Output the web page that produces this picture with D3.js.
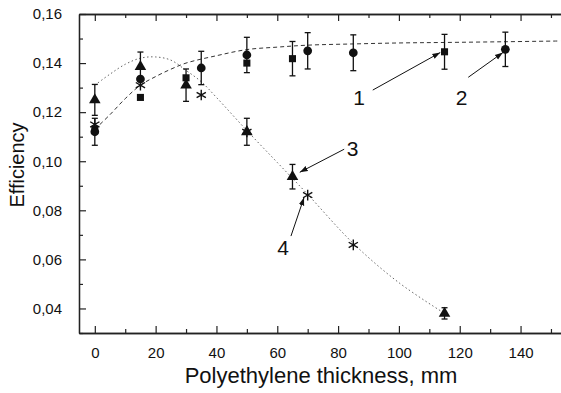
<!DOCTYPE html>
<html>
<head>
<meta charset="utf-8">
<script src="https://cdn.jsdelivr.net/npm/d3@7"></script>
<style>
  body { margin: 0; background: #fff; }
  text { font-family: "Liberation Sans", Arial, sans-serif; fill: #111; }
</style>
</head>
<body>
<svg width="561" height="393"></svg>
<script>
// series 1: squares, series 2: circles, series 3: triangles, series 4: asterisks
var xSq = [0, 15, 30, 50, 65, 115];
var ySq = [0.113, 0.126, 0.134, 0.140, 0.1418, 0.1446];
var eSq = [0, 0, 0, 0, 0.007, 0.0071];

var xCi = [0, 15, 35, 50, 70, 85, 135];
var yCi = [0.112, 0.1335, 0.138, 0.1433, 0.145, 0.1442, 0.1456];
var eCi = [0.0055, 0, 0.0068, 0.0072, 0.0074, 0.0073, 0.007];

var xTr = [0, 15, 30, 50, 65, 115];
var yTr = [0.125, 0.1385, 0.131, 0.112, 0.0937, 0.038];
var eTr = [0.0063, 0.006, 0.0066, 0.0055, 0.005, 0.0023];

var xSt = [0, 15, 35, 50, 70, 85];
var ySt = [0.115, 0.131, 0.127, 0.112, 0.0862, 0.0659];

// fitted curves
var xDash = [0, 5, 10, 15, 20, 25, 30, 40, 50, 60, 70, 85, 100, 115, 135, 153];
var yDash = [0.113, 0.119, 0.1255, 0.131, 0.1345, 0.1375, 0.140, 0.143, 0.1455, 0.1465, 0.1473, 0.1478, 0.1482, 0.1484, 0.1487, 0.149];
var xDot = [0, 5, 10, 15, 20, 25, 30, 35, 40, 50, 60, 70, 85, 100, 115];
var yDot = [0.131, 0.1355, 0.1395, 0.142, 0.1425, 0.1412, 0.137, 0.1324, 0.126, 0.1125, 0.0995, 0.0865, 0.0665, 0.0505, 0.038];

var xTicks = [0, 20, 40, 60, 80, 100, 120, 140];
var xMinor = [10, 30, 50, 70, 90, 110, 130, 150];
var yTicks = [0.04, 0.06, 0.08, 0.10, 0.12, 0.14, 0.16];
var yMinor = [0.03, 0.05, 0.07, 0.09, 0.11, 0.13, 0.15];

// labels: text, label x/y, arrow tail, arrow tip (data units)
var notes = [
  ["1", 86.9, 0.1262, 91.4, 0.129, 113.6, 0.1443],
  ["2", 120.6, 0.1262, 122.8, 0.1342, 134.2, 0.1443],
  ["3", 84.8, 0.1054, 82, 0.1049, 67.4, 0.0955],
  ["4", 61.9, 0.065, 64.5, 0.0695, 68.8, 0.0852]
];

var svg = d3.select("svg");
var x = d3.scaleLinear().domain([-5.2, 153.3]).range([79, 561]);
var y = d3.scaleLinear().domain([0.03, 0.16]).range([333, 14]);
var comma = function(d) { return d3.format(".2f")(d).replace(".", ","); };

svg.append("defs").append("marker")
  .attr("id", "head")
  .attr("viewBox", "0 0 10 10")
  .attr("refX", 10).attr("refY", 5)
  .attr("markerWidth", 8).attr("markerHeight", 8)
  .attr("markerUnits", "userSpaceOnUse")
  .attr("orient", "auto")
  .append("path").attr("d", "M0,1.5L10,5L0,8.5Z").attr("fill", "#111");

// axes, ticks pointing inward
function styleAxis(g) {
  g.selectAll("path").attr("stroke", "#222").attr("stroke-width", 1.3);
  g.selectAll("line").attr("stroke", "#222").attr("stroke-width", 1.2);
  g.selectAll("text").attr("font-size", "15px").attr("fill", "#111");
}

svg.append("g").attr("transform", "translate(0,333)")
  .call(d3.axisBottom(x).tickValues(xTicks).tickSize(-7).tickSizeOuter(0).tickPadding(14))
  .call(styleAxis);
svg.append("g").attr("transform", "translate(0,333)")
  .call(d3.axisBottom(x).tickValues(xMinor).tickSize(-4).tickSizeOuter(0).tickFormat(""))
  .call(styleAxis);
svg.append("g").attr("transform", "translate(0,14)")
  .call(d3.axisTop(x).tickValues(xTicks).tickSize(-7).tickSizeOuter(0).tickFormat(""))
  .call(styleAxis);
svg.append("g").attr("transform", "translate(0,14)")
  .call(d3.axisTop(x).tickValues(xMinor).tickSize(-4).tickSizeOuter(0).tickFormat(""))
  .call(styleAxis);
svg.append("g").attr("transform", "translate(79,0)")
  .call(d3.axisLeft(y).tickValues(yTicks).tickSize(-7).tickSizeOuter(0).tickPadding(17).tickFormat(comma))
  .call(styleAxis);
svg.append("g").attr("transform", "translate(79,0)")
  .call(d3.axisLeft(y).tickValues(yMinor).tickSize(-4).tickSizeOuter(0).tickFormat(""))
  .call(styleAxis);

svg.append("text")
  .attr("x", 321).attr("y", 383)
  .attr("text-anchor", "middle")
  .attr("font-size", "22px")
  .text("Polyethylene thickness, mm");
svg.append("text")
  .attr("transform", "translate(24,165) rotate(-90)")
  .attr("text-anchor", "middle")
  .attr("font-size", "20px")
  .text("Efficiency");

// fit curves
var line = d3.line()
  .x(function(d) { return x(d[0]); })
  .y(function(d) { return y(d[1]); })
  .curve(d3.curveCatmullRom);

svg.append("path")
  .attr("d", line(d3.zip(xDash, yDash)))
  .attr("fill", "none").attr("stroke", "#333")
  .attr("stroke-width", 1).attr("stroke-dasharray", "4,3");
svg.append("path")
  .attr("d", line(d3.zip(xDot, yDot)))
  .attr("fill", "none").attr("stroke", "#666")
  .attr("stroke-width", 1).attr("stroke-dasharray", "1.5,2.5");

// error bars
function errBars(xs, ys, es) {
  var d = d3.zip(xs, ys, es).filter(function(p) { return p[2] > 0; });
  var g = svg.append("g").attr("stroke", "#111").attr("stroke-width", 1.3);
  g.selectAll(".v").data(d).enter().append("line")
    .attr("x1", function(p) { return x(p[0]); }).attr("x2", function(p) { return x(p[0]); })
    .attr("y1", function(p) { return y(p[1] + p[2]); }).attr("y2", function(p) { return y(p[1] - p[2]); });
  [1, -1].forEach(function(s) {
    g.selectAll(".c" + s).data(d).enter().append("line")
      .attr("x1", function(p) { return x(p[0]) - 3; }).attr("x2", function(p) { return x(p[0]) + 3; })
      .attr("y1", function(p) { return y(p[1] + s * p[2]); }).attr("y2", function(p) { return y(p[1] + s * p[2]); });
  });
}
errBars(xSq, ySq, eSq);
errBars(xCi, yCi, eCi);
errBars(xTr, yTr, eTr);

// markers
function marks(xs, ys, type, size, filled) {
  svg.append("g").selectAll("path")
    .data(d3.zip(xs, ys))
    .enter().append("path")
    .attr("d", d3.symbol().type(type).size(size))
    .attr("transform", function(p) { return "translate(" + x(p[0]) + "," + y(p[1]) + ")"; })
    .attr("fill", filled ? "#111" : "none")
    .attr("stroke", "#111")
    .attr("stroke-width", filled ? 0 : 1.4);
}
marks(xSt, ySt, d3.symbolAsterisk, 80, false);
marks(xSq, ySq, d3.symbolSquare, 50, true);
marks(xCi, yCi, d3.symbolCircle, 60, true);
marks(xTr, yTr, d3.symbolTriangle, 58, true);

// numbered labels with arrows
svg.append("g").selectAll("line")
  .data(notes).enter().append("line")
  .attr("x1", function(n) { return x(n[3]); }).attr("y1", function(n) { return y(n[4]); })
  .attr("x2", function(n) { return x(n[5]); }).attr("y2", function(n) { return y(n[6]); })
  .attr("stroke", "#111").attr("stroke-width", 1)
  .attr("marker-end", "url(#head)");
svg.append("g").selectAll("text")
  .data(notes).enter().append("text")
  .attr("x", function(n) { return x(n[1]); })
  .attr("y", function(n) { return y(n[2]); })
  .attr("dy", "0.36em")
  .attr("text-anchor", "middle")
  .attr("font-size", "21px")
  .text(function(n) { return n[0]; });
</script>
</body>
</html>
